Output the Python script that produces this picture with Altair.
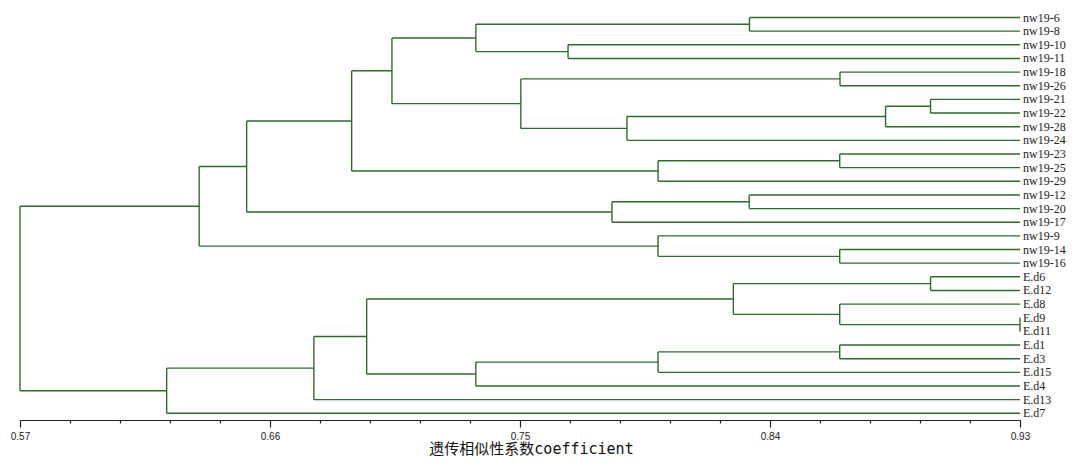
import altair as alt
import pandas as pd

# leaf order (top to bottom)
leaves = ["nw19-6", "nw19-8", "nw19-10", "nw19-11", "nw19-18", "nw19-26",
          "nw19-21", "nw19-22", "nw19-28", "nw19-24", "nw19-23", "nw19-25",
          "nw19-29", "nw19-12", "nw19-20", "nw19-17", "nw19-9", "nw19-14",
          "nw19-16", "E.d6", "E.d12", "E.d8", "E.d9", "E.d11", "E.d1",
          "E.d3", "E.d15", "E.d4", "E.d13", "E.d7"]

# merges: cluster C{k+1} = merge_a[k] + merge_b[k] at similarity merge_h[k]
merge_a = ["nw19-6", "nw19-10", "C1", "nw19-18", "nw19-21", "C5", "C6", "C4",
           "C3", "nw19-23", "C10", "C9", "nw19-12", "C13", "C12", "nw19-14",
           "nw19-9", "C15", "E.d6", "E.d9", "E.d8", "C19", "E.d1", "C23",
           "C24", "C22", "C26", "C27", "C18"]
merge_b = ["nw19-8", "nw19-11", "C2", "nw19-26", "nw19-22", "nw19-28",
           "nw19-24", "C7", "C8", "nw19-25", "nw19-29", "C11", "nw19-20",
           "nw19-17", "C14", "nw19-16", "C16", "C17", "E.d12", "E.d11",
           "C20", "C21", "E.d3", "E.d15", "E.d4", "C25", "E.d13", "E.d7",
           "C28"]
merge_h = [0.8326, 0.7673, 0.7341, 0.8652, 0.8978, 0.8816, 0.7885, 0.7503,
           0.7039, 0.8651, 0.7997, 0.6894, 0.8325, 0.7831, 0.6516, 0.8651,
           0.7997, 0.6345, 0.8978, 0.9300, 0.8651, 0.8268, 0.8651, 0.7997,
           0.7341, 0.6948, 0.6758, 0.6228, 0.5700]

leaf_sim = 0.93
x_domain = [0.57, 0.93]
tick_values = [0.57, 0.588, 0.606, 0.624, 0.642, 0.66, 0.678, 0.696, 0.714,
               0.732, 0.75, 0.768, 0.786, 0.804, 0.822, 0.84, 0.858, 0.876,
               0.894, 0.912, 0.93]
axis_title = "遗传相似性系数coefficient"

# build dendrogram segments
pos = {name: (leaf_sim, i) for i, name in enumerate(leaves)}
segs = []
for k, (a, b, h) in enumerate(zip(merge_a, merge_b, merge_h)):
    xa, ya = pos[a]
    xb, yb = pos[b]
    segs.append({"x": xa, "x2": h, "y": ya, "y2": ya})
    segs.append({"x": xb, "x2": h, "y": yb, "y2": yb})
    segs.append({"x": h, "x2": h, "y": ya, "y2": yb})
    pos[f"C{k + 1}"] = (h, (ya + yb) / 2)
seg_df = pd.DataFrame(segs)
lab_df = pd.DataFrame({"x": [leaf_sim] * len(leaves),
                       "y": list(range(len(leaves))),
                       "name": leaves})

line_color = "#2f6b2f"

x_scale = alt.Scale(domain=x_domain, nice=False, zero=False)
y_scale = alt.Scale(domain=[0, len(leaves) - 1], range=[7.5, 403.3],
                    nice=False, zero=False)

major_test = "round(datum.value*1000) % 90 == 30"
x_axis = alt.Axis(
    values=tick_values,
    labelExpr=f"{major_test} ? format(datum.value, '.2f') : ''",
    tickSize={"condition": {"test": major_test, "value": 7}, "value": 3},
    tickColor="#222", domainColor="#222", tickWidth=1.2, domainWidth=1.2,
    labelFont="Liberation Sans Narrow, Liberation Sans", labelFontSize=10,
    labelColor="#222", labelPadding=4, labelFlush=False, grid=False,
    title=axis_title, titleFont="DejaVu Sans Mono, Noto Sans CJK SC",
    titleFontSize=15, titleFontWeight="normal", titleColor="#111",
    titleX=511, titleY=33, titleAnchor="middle", titleAlign="center",
    titleBaseline="alphabetic",
)

rules = alt.Chart(seg_df).mark_rule(color=line_color, strokeWidth=1.4).encode(
    x=alt.X("x:Q", scale=x_scale, axis=x_axis),
    x2="x2:Q",
    y=alt.Y("y:Q", scale=y_scale, axis=None),
    y2="y2:Q",
)

labels = alt.Chart(lab_df).mark_text(
    align="left", baseline="middle", dx=3, font="Liberation Serif",
    fontSize=12, color="#222"
).encode(
    x=alt.X("x:Q", scale=x_scale, axis=x_axis),
    y=alt.Y("y:Q", scale=y_scale, axis=None),
    text="name:N",
)

chart = alt.layer(rules, labels).properties(
    width=1000, height=410,
    autosize=alt.AutoSizeParams(type="none"),
    padding={"left": 12, "top": 2, "right": 47, "bottom": 36},
    background="white",
).configure_view(stroke=None)

chart.save("out.html", embed_options={"renderer": "svg", "actions": False})
